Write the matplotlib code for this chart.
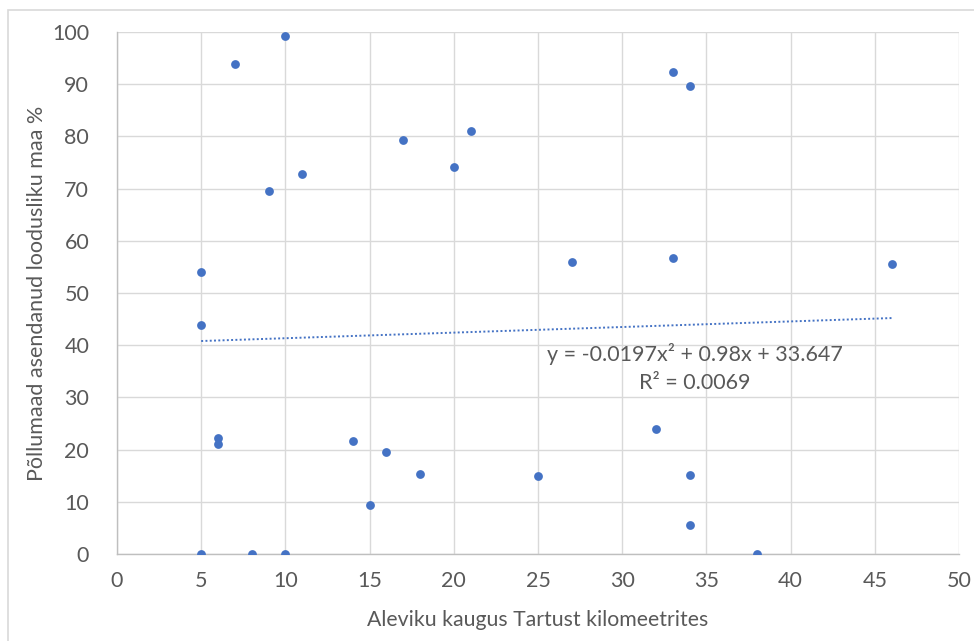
import matplotlib
matplotlib.use('Agg')
import matplotlib.pyplot as plt
from matplotlib.patches import Rectangle

# distance from Tartu (km) and share of natural land replacing fields (%)
distance_km = [5, 5, 5, 6, 6, 7, 8, 9, 10, 10, 11, 14, 15, 16, 17, 18, 20, 21,
               25, 27, 32, 33, 33, 34, 34, 34, 38, 46]
natural_pct = [54.1, 43.8, 0, 22.2, 21.1, 93.8, 0, 69.5, 99.3, 0, 72.8, 21.6,
               9.4, 19.5, 79.3, 15.3, 74.2, 81.0, 14.9, 56.0, 23.9, 92.4, 56.7,
               89.7, 15.1, 5.6, 0, 55.6]

# trendline as shown on the chart
trend_x = [5, 46]
trend_y = [40.8, 45.2]

x_ticks = list(range(0, 51, 5))
y_ticks = list(range(0, 101, 10))

BLUE = '#4472C4'
TEXT = '#595959'

plt.rcParams['font.family'] = ['Lato', 'DejaVu Sans']

fig = plt.figure(figsize=(9.74, 6.41), dpi=100)
ax = fig.add_axes([117 / 974, 87 / 641, 842 / 974, 522 / 641])

# outer chart frame
fig.patches.append(Rectangle((8 / 974, -0.1), 1.2, (641 - 10) / 641 + 0.1,
                             transform=fig.transFigure, fill=False,
                             edgecolor='#d9d9d9', linewidth=1.2))

ax.scatter(distance_km, natural_pct, s=40, color=BLUE, zorder=3, linewidths=0)
ax.plot(trend_x, trend_y, color=BLUE, linestyle=(0, (1, 1.2)), linewidth=1.4, zorder=2)

ax.text(34.3, 38.3, 'y = -0.0197x² + 0.98x + 33.647', ha='center', va='center',
        fontsize=15.5, color=TEXT)
ax.text(34.3, 32.8, 'R² = 0.0069', ha='center', va='center', fontsize=15.5, color=TEXT)

ax.set_xlim(0, 50)
ax.set_ylim(0, 100)
ax.set_xticks(x_ticks)
ax.set_yticks(y_ticks)
ax.grid(True, color='#d9d9d9', linewidth=1)
ax.set_axisbelow(True)
ax.tick_params(length=0, labelsize=15.5, labelcolor=TEXT)
ax.tick_params(axis='x', pad=12)
ax.tick_params(axis='y', pad=20)

for side in ['top', 'right']:
    ax.spines[side].set_visible(False)
for side in ['left', 'bottom']:
    ax.spines[side].set_color('#bfbfbf')
    ax.spines[side].set_linewidth(1)

ax.set_xlabel('Aleviku kaugus Tartust kilomeetrites', fontsize=15.3, color=TEXT, labelpad=14)
ax.set_ylabel('Põllumaad asendanud loodusliku maa %', fontsize=15.5, color=TEXT, labelpad=4)

fig.savefig('out.png', dpi=100, facecolor='white')
